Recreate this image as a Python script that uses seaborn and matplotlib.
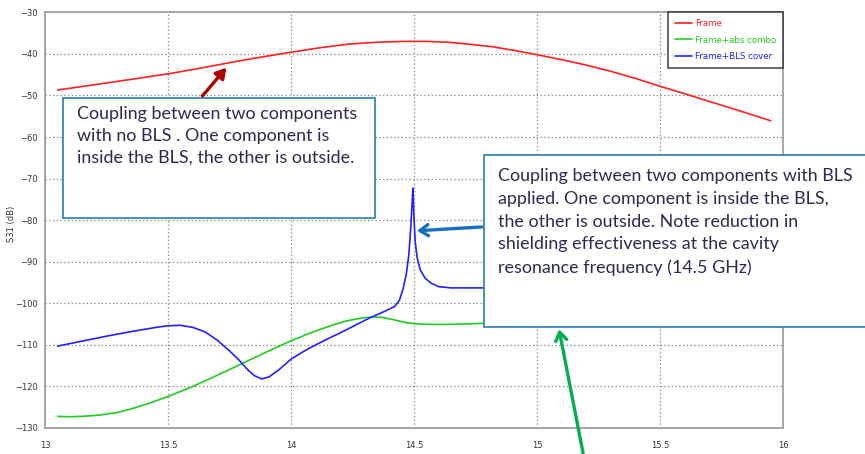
import numpy as np
import pandas as pd
import matplotlib
matplotlib.use("Agg")
import matplotlib.pyplot as plt
import seaborn as sns
from matplotlib.patches import Rectangle

# Значения (частота в ГГц, S31 в дБ)

frame_freq = [13.05, 13.25, 13.5, 13.625, 13.76, 13.875, 14.0, 14.12, 14.24, 14.35,
              14.45, 14.55, 14.64, 14.73, 14.82, 14.91, 15.0, 15.1, 15.2, 15.3,
              15.4, 15.5, 15.6, 15.72, 15.84, 15.95]
frame_s31 = [-48.7, -47.0, -44.8, -43.5, -42.0, -40.8, -39.6, -38.5, -37.6, -37.2,
             -37.0, -37.0, -37.2, -37.7, -38.3, -39.2, -40.2, -41.4, -42.7, -44.2,
             -45.9, -47.8, -49.6, -51.8, -54.0, -56.1]

abs_freq = [13.05, 13.1, 13.15, 13.22, 13.29, 13.35, 13.42, 13.5, 13.6, 13.7,
            13.8, 13.9, 14.0, 14.08, 14.15, 14.22, 14.28, 14.33, 14.37, 14.42,
            14.47, 14.52, 14.6, 14.7, 14.79, 15.2, 15.6, 15.95]
abs_s31 = [-127.2, -127.3, -127.2, -126.9, -126.3, -125.4, -124.1, -122.4, -120.0, -117.3,
           -114.5, -111.7, -109.0, -107.1, -105.6, -104.3, -103.6, -103.3, -103.4, -104.0,
           -104.7, -105.0, -105.1, -105.0, -104.8, -104.7, -104.6, -104.5]

bls_freq = [13.05, 13.15, 13.25, 13.35, 13.45, 13.5, 13.55, 13.6, 13.65, 13.7,
            13.75, 13.79, 13.82, 13.85, 13.88, 13.91, 13.95, 14.0, 14.05, 14.1,
            14.15, 14.2, 14.26, 14.32, 14.37, 14.42, 14.44, 14.455, 14.468, 14.478,
            14.486, 14.491, 14.495, 14.499, 14.504, 14.512, 14.525, 14.545, 14.57, 14.6,
            14.65, 14.8, 15.2, 15.6, 15.95]
bls_s31 = [-110.3, -109.1, -107.9, -106.8, -105.8, -105.4, -105.3, -105.8, -106.9, -108.9,
           -111.5, -113.8, -115.8, -117.4, -118.2, -117.7, -116.0, -113.4, -111.6, -110.0,
           -108.5, -107.1, -105.3, -103.5, -102.2, -100.8, -99.3, -96.5, -93.0, -88.5,
           -82.0, -76.5, -72.3, -79.0, -85.0, -89.0, -92.0, -94.0, -95.2, -96.0,
           -96.3, -96.3, -96.3, -96.3, -96.3]

series_names = ["Frame", "Frame+abs combo", "Frame+BLS cover"]
series_colors = ["#ff2020", "#22cc22", "#2222ff"]

note_left = ("Coupling between two components\n"
             "with no BLS . One component is\n"
             "inside the BLS, the other is outside.")
note_right = ("Coupling between two components with BLS\n"
              "applied. One component is inside the BLS,\n"
              "the other is outside. Note reduction in\n"
              "shielding effectiveness at the cavity\n"
              "resonance frequency (14.5 GHz)")

df = pd.concat([
    pd.DataFrame({"freq": frame_freq, "s31": frame_s31, "curve": series_names[0]}),
    pd.DataFrame({"freq": abs_freq, "s31": abs_s31, "curve": series_names[1]}),
    pd.DataFrame({"freq": bls_freq, "s31": bls_s31, "curve": series_names[2]}),
])

sns.set_style("white")
plt.rcParams["font.family"] = ["DejaVu Sans"]

fig = plt.figure(figsize=(8.65, 4.54), dpi=100)
ax = fig.add_axes([0.0524, 0.0573, 0.9052 - 0.0524, 0.9729 - 0.0573])

sns.lineplot(data=df, x="freq", y="s31", hue="curve", hue_order=series_names,
             palette=series_colors, linewidth=1.2, ax=ax, sort=False, estimator=None)

ax.set_xlim(13, 16)
ax.set_ylim(-130, -30)
ax.set_xticks(np.arange(13, 16.01, 0.5))
ax.set_xticklabels(["13", "13.5", "14", "14.5", "15", "15.5", "16"])
ax.set_yticks(np.arange(-130, -29, 10))
ax.grid(True, color="#808080", linestyle=(0, (1, 2)), linewidth=0.9)
ax.set_xlabel("")
ax.set_ylabel("S31 (dB)", fontsize=6, color="#333333")
ax.yaxis.set_label_coords(-0.040, 0.49)
ax.tick_params(axis="both", labelsize=6, colors="#333333", length=3.5, width=0.8,
               direction="out", pad=2)
ax.tick_params(axis="x", pad=6)
for side in ax.spines.values():
    side.set_color("#a0a0a0")
    side.set_linewidth(1.3)

leg = ax.legend(loc="upper right", borderaxespad=0, fontsize=6.2, frameon=True,
                fancybox=False, edgecolor="#222222", handlelength=2.0,
                labelspacing=0.9, labelcolor="linecolor", borderpad=0.75,
                handletextpad=0.4)
leg.get_frame().set_linewidth(1.2)

# Поясняющие рамки
text_color = "#2a2a55"
box_color = "#2b7bb0"
ax.add_patch(Rectangle((0.0728, 0.5198), 0.3607, 0.2643, transform=fig.transFigure,
                       facecolor="white", edgecolor=box_color, linewidth=1.2,
                       clip_on=False, zorder=5))
ax.add_patch(Rectangle((0.5595, 0.2797), 0.46, 0.3789, transform=fig.transFigure,
                       facecolor="white", edgecolor=box_color, linewidth=1.2,
                       clip_on=False, zorder=5))
ax.text(77 / 865, 1 - 106 / 454, note_left, transform=fig.transFigure, fontsize=12.9,
        family="Lato", color=text_color, va="top", ha="left", linespacing=1.43, zorder=6)
ax.text(498 / 865, 1 - 168 / 454, note_right, transform=fig.transFigure, fontsize=12.9,
        family="Lato", color=text_color, va="top", ha="left", linespacing=1.52, zorder=6)

# Стрелки
ax.annotate("", xy=(13.744, -42.8), xytext=(13.632, -50.6),
            arrowprops=dict(arrowstyle="-|>,head_width=0.35,head_length=0.6",
                            color="#b00000", linewidth=2.4),
            annotation_clip=False, zorder=7)
ax.annotate("", xy=(14.5, -82.6), xytext=(14.786, -81.6),
            arrowprops=dict(arrowstyle="->,head_width=0.4,head_length=0.6",
                            color="#1a6fc0", linewidth=2.4),
            annotation_clip=False, zorder=7)
ax.annotate("", xy=(15.087, -105.6), xytext=(15.19, -137),
            arrowprops=dict(arrowstyle="->,head_width=0.4,head_length=0.6",
                            color="#00b050", linewidth=2.4),
            annotation_clip=False, zorder=7)

fig.savefig("out.png", dpi=100)
